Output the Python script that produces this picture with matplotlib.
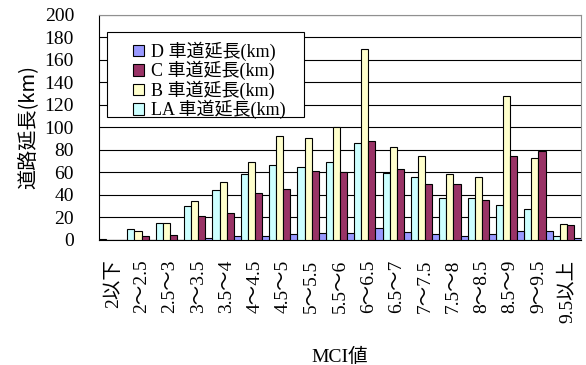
import numpy as np
import matplotlib
matplotlib.use("Agg")
import matplotlib.pyplot as plt
from matplotlib.patches import Rectangle, Patch

plt.rcParams['font.family'] = ['Liberation Serif', 'Noto Sans CJK JP']

# MCI classes
categories = ['2以下', '2～2.5', '2.5～3', '3～3.5', '3.5～4', '4～4.5', '4.5～5',
              '5～5.5', '5.5～6', '6～6.5', '6.5～7', '7～7.5', '7.5～8', '8～8.5',
              '8.5～9', '9～9.5', '9.5以上']

# road length per class (km)
la_len = [1.0, 9.5, 14.8, 29.8, 44.3, 58.8, 67.0, 65.3, 69.4, 86.2, 59.3, 56.3,
          37.3, 37.6, 31.4, 27.3, 3.6]
b_len = [0.0, 7.7, 14.8, 34.3, 51.7, 69.0, 92.8, 90.7, 100.0, 169.5, 83.0, 74.7,
         58.4, 56.3, 128.3, 72.9, 14.2]
c_len = [0.0, 3.5, 4.4, 21.0, 23.6, 42.2, 45.2, 61.7, 60.4, 88.0, 63.4, 50.0,
         50.0, 35.6, 74.7, 79.1, 13.0]
d_len = [0.0, 0.0, 0.0, 1.5, 3.5, 3.5, 5.3, 6.2, 5.9, 10.7, 7.1, 5.6,
         3.6, 5.6, 8.0, 8.0, 1.5]

series = [
    ('LA 車道延長(km)', la_len, '#CCFFFF'),
    ('B 車道延長(km)', b_len, '#FFFFCC'),
    ('C 車道延長(km)', c_len, '#993366'),
    ('D 車道延長(km)', d_len, '#9999FF'),
]

fig = plt.figure(figsize=(5.86, 3.65), dpi=100)
ax = fig.add_axes([0.169, 0.3425, 0.8225, 0.6165])

x = np.arange(len(categories))
w = 0.25
for k, (name, vals, col) in enumerate(series):
    ax.bar(x - 0.5 + w / 2 + k * w, vals, width=w, color=col,
           edgecolor='black', linewidth=0.8, zorder=3)

ax.set_xlim(-0.5, len(categories) - 0.5)
ax.set_ylim(0, 200)
ax.set_yticks(np.arange(0, 201, 20))
ax.yaxis.grid(True, color='black', linewidth=0.8, zorder=0)
ax.set_axisbelow(True)

ax.set_xticks(x)
ax.set_xticklabels(categories, rotation=90, fontsize=14, va='top')
ax.tick_params(axis='x', length=0, pad=14)
ax.tick_params(axis='y', length=0, pad=18, labelsize=14)

for s in ('top', 'right'):
    ax.spines[s].set_color('#909090')
for s in ('left', 'bottom'):
    ax.spines[s].set_color('black')

ax.set_ylabel('道路延長(km)', fontsize=14.5, family=['Noto Sans CJK JP'], labelpad=4.5)
ax.set_xlabel('MCI値', fontsize=14, labelpad=18)

# legend box and entries
ax.add_patch(Rectangle((0.0166, 0.547), 0.409, 0.377, transform=ax.transAxes,
                       facecolor='white', edgecolor='black', linewidth=0.8, zorder=4))
handles = [Patch(facecolor=col, edgecolor='black', linewidth=0.8, label=name)
           for name, vals, col in [series[3], series[2], series[1], series[0]]]
ax.legend(handles=handles, loc='upper left', bbox_to_anchor=(0.052, 0.921),
          frameon=False, borderpad=0, fontsize=13, handlelength=0.6,
          handleheight=0.6, handletextpad=0.4, labelspacing=0.0)

fig.savefig('out.png', dpi=100)
